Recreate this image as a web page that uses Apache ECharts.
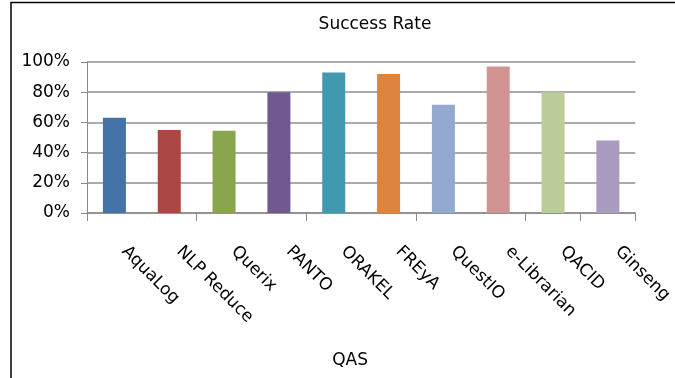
<!DOCTYPE html>
<html><head><meta charset="utf-8">
<script src="https://cdn.jsdelivr.net/npm/echarts@6/dist/echarts.min.js"></script>
<style>html,body{margin:0;padding:0;background:#fff}#c{width:675px;height:378px}</style>
</head><body><div id="c"></div>
<script>
const categories = ["AquaLog","NLP Reduce","Querix","PANTO","ORAKEL","FREyA","QuestIO","e-Librarian","QACID","Ginseng"];
const successRate = [63, 55, 54.5, 80, 93, 92, 71.7, 97, 80, 48];
const barColors = ["#4572A7","#AA4643","#89A54E","#71588F","#4198AF","#DB843D","#93A9CF","#D19392","#B9CD96","#A99BBD"];
const yTicks = [0, 20, 40, 60, 80, 100];
const FONT = "DejaVu Sans";
const chart = echarts.init(document.getElementById('c'));
chart.setOption({
  animation: false,
  title: { text: "Success Rate", left: 370, top: 11, textAlign: 'center',
    textStyle: { fontFamily: FONT, fontSize: 17, fontWeight: 'normal', color: '#000' } },
  grid: { left: 87, right: 38, top: 62, bottom: 165 },
  graphic: [{ type: 'polyline', shape: { points: [[11, 380], [11, 2.5], [680, 2.5]] },
    style: { stroke: '#000', lineWidth: 1.5, fill: null } }],
  xAxis: {
    type: 'category', data: categories,
    name: 'QAS', nameLocation: 'middle', nameGap: 139,
    nameTextStyle: { fontFamily: FONT, fontSize: 17, color: '#000', padding: [0, 22, 0, 0] },
    axisLine: { lineStyle: { color: '#8a8a8a', width: 1.5 } },
    axisTick: { show: true, interval: 1, length: 8, lineStyle: { color: '#8a8a8a' } },
    axisLabel: { interval: 0, rotate: -45, margin: 26, padding: [0, 0, 0, 14],
      fontFamily: FONT, fontSize: 17, color: '#000' }
  },
  yAxis: {
    type: 'value', min: 0, max: 100, interval: 20,
    axisLine: { show: true, lineStyle: { color: '#8a8a8a' } },
    axisTick: { show: true, length: 6, lineStyle: { color: '#8a8a8a' } },
    splitLine: { lineStyle: { color: '#8e8e8e', width: 1.5 } },
    axisLabel: { margin: 17, fontFamily: FONT, fontSize: 17, color: '#000',
      formatter: v => yTicks.includes(v) ? v + '%' : '' }
  },
  series: [{
    type: 'bar', barWidth: 23,
    data: successRate.map((v, i) => ({ value: v, itemStyle: { color: barColors[i] } }))
  }]
});
</script></body></html>
